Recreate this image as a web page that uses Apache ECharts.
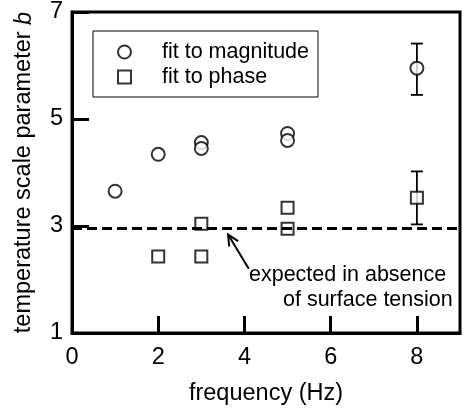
<!DOCTYPE html>
<html><head><meta charset="utf-8">
<script src="https://cdn.jsdelivr.net/npm/echarts@6/dist/echarts.min.js"></script>
<style>html,body{margin:0;padding:0;background:#fff}#c{width:464px;height:415px}</style>
</head><body><div id="c"></div>
<script>
// ---- data ----
const xTickLabels = [0, 2, 4, 6, 8];
const yTickLabels = [1, 3, 5, 7];
const magFreq = [1, 2, 3, 3, 5, 5, 8];
const magB = [3.65, 4.34, 4.56, 4.45, 4.73, 4.60, 5.95];
const phaseFreq = [2, 3, 3, 5, 5, 8];
const phaseB = [2.43, 2.43, 3.04, 3.34, 2.95, 3.53];
const errFreq = [8, 8];
const errLow = [5.45, 3.03];
const errHigh = [6.41, 4.02];
const expectedB = 2.95;
const arrowFrom = [4.10, 2.20];
const arrowTo = [3.62, 2.84];
const annotationLines = ['expected in absence', 'of surface tension'];

const FONT = 'Liberation Sans, Arial, Helvetica, sans-serif';
const chart = echarts.init(document.getElementById('c'), null, {renderer: 'canvas'});

const magData = magFreq.map((x, i) => [x, magB[i]]);
const phaseData = phaseFreq.map((x, i) => [x, phaseB[i]]);
const errData = errFreq.map((x, i) => [x, errLow[i], errHigh[i]]);

const hollow = {color: '#fff', borderColor: '#000', borderWidth: 2};

chart.setOption({
  animation: false,
  backgroundColor: '#fff',
  grid: {left: 72, right: 4, top: 12, bottom: 82, show: true, borderColor: '#000', borderWidth: 3, backgroundColor: 'transparent'},
  legend: {
    orient: 'vertical', left: 93, top: 31,
    padding: [10, 9, 9, 24], itemGap: 3,
    itemWidth: 13, itemHeight: 13,
    borderColor: '#000', borderWidth: 1,
    data: ['fit to magnitude', 'fit to phase'],
    textStyle: {fontFamily: FONT, fontSize: 21.5, color: '#000', lineHeight: 22, padding: [0, 0, 0, 26]}
  },
  xAxis: {
    type: 'value', min: 0, max: 9, interval: 2,
    name: 'frequency (Hz)', nameLocation: 'middle', nameGap: 49,
    nameTextStyle: {fontFamily: FONT, fontSize: 23.5, color: '#000'},
    axisLine: {lineStyle: {color: '#000', width: 3}},
    axisTick: {inside: true, length: 17, lineStyle: {color: '#000', width: 3}},
    axisLabel: {fontFamily: FONT, fontSize: 23.5, color: '#000', margin: 13, showMaxLabel: false,
      formatter: v => xTickLabels.includes(v) ? String(v) : ''},
    splitLine: {show: false}
  },
  yAxis: {
    type: 'value', min: 1, max: 7, interval: 2,
    name: '{n|temperature scale parameter }{i|b}', nameLocation: 'middle', nameGap: 36, nameRotate: 90,
    nameTextStyle: {fontFamily: FONT, fontSize: 23.5, color: '#000',
      rich: {n: {fontFamily: FONT, fontSize: 23.5, color: '#000'}, i: {fontFamily: FONT, fontSize: 23.5, color: '#000', fontStyle: 'italic'}}},
    axisLine: {lineStyle: {color: '#000', width: 3}},
    axisTick: {inside: true, length: 17, lineStyle: {color: '#000', width: 3}},
    axisLabel: {fontFamily: FONT, fontSize: 23.5, color: '#000', margin: 9,
      formatter: v => yTickLabels.includes(v) ? String(v) : ''},
    splitLine: {show: false}
  },
  series: [
    {
      name: 'expected', type: 'line', data: [], silent: true,
      markLine: {
        silent: true, symbol: ['none', 'none'], label: {show: false},
        lineStyle: {color: '#000', width: 3, type: [10, 5]},
        data: [{yAxis: expectedB}]
      }
    },
    {
      name: 'errorbars', type: 'custom', data: errData, z: 3,
      renderItem: function (params, api) {
        const x = api.value(0);
        const lo = api.coord([x, api.value(1)]);
        const hi = api.coord([x, api.value(2)]);
        const hw = 6;
        const st = {stroke: '#000', lineWidth: 1.8};
        return {type: 'group', children: [
          {type: 'line', shape: {x1: lo[0], y1: lo[1], x2: hi[0], y2: hi[1]}, style: st},
          {type: 'line', shape: {x1: lo[0] - hw, y1: lo[1], x2: lo[0] + hw, y2: lo[1]}, style: st},
          {type: 'line', shape: {x1: hi[0] - hw, y1: hi[1], x2: hi[0] + hw, y2: hi[1]}, style: st}
        ]};
      }
    },
    {
      name: 'fit to magnitude', type: 'scatter', data: magData, symbol: 'circle', symbolSize: 13, z: 4,
      itemStyle: hollow
    },
    {
      name: 'fit to phase', type: 'scatter', data: phaseData, symbol: 'rect', symbolSize: 12, z: 4,
      itemStyle: hollow
    },
    {
      name: 'arrow', type: 'custom', data: [[arrowFrom[0], arrowFrom[1], arrowTo[0], arrowTo[1]]], z: 5,
      renderItem: function (params, api) {
        const a = api.coord([api.value(0), api.value(1)]);
        const b = api.coord([api.value(2), api.value(3)]);
        const ang = Math.atan2(b[1] - a[1], b[0] - a[0]);
        const L = 12, sp = 0.45;
        const h1 = [b[0] - L * Math.cos(ang - sp), b[1] - L * Math.sin(ang - sp)];
        const h2 = [b[0] - L * Math.cos(ang + sp), b[1] - L * Math.sin(ang + sp)];
        const st = {stroke: '#000', lineWidth: 2, fill: null};
        return {type: 'group', children: [
          {type: 'line', shape: {x1: a[0], y1: a[1], x2: b[0], y2: b[1]}, style: st},
          {type: 'polyline', shape: {points: [h1, b, h2]}, style: st}
        ]};
      }
    }
  ],
  graphic: [
    {type: 'text', left: 249, top: 264, style: {text: annotationLines[0], font: '21.5px ' + FONT, fill: '#000'}},
    {type: 'text', left: 283, top: 289, style: {text: annotationLines[1], font: '21.5px ' + FONT, fill: '#000'}}
  ]
});
</script>
</body></html>
